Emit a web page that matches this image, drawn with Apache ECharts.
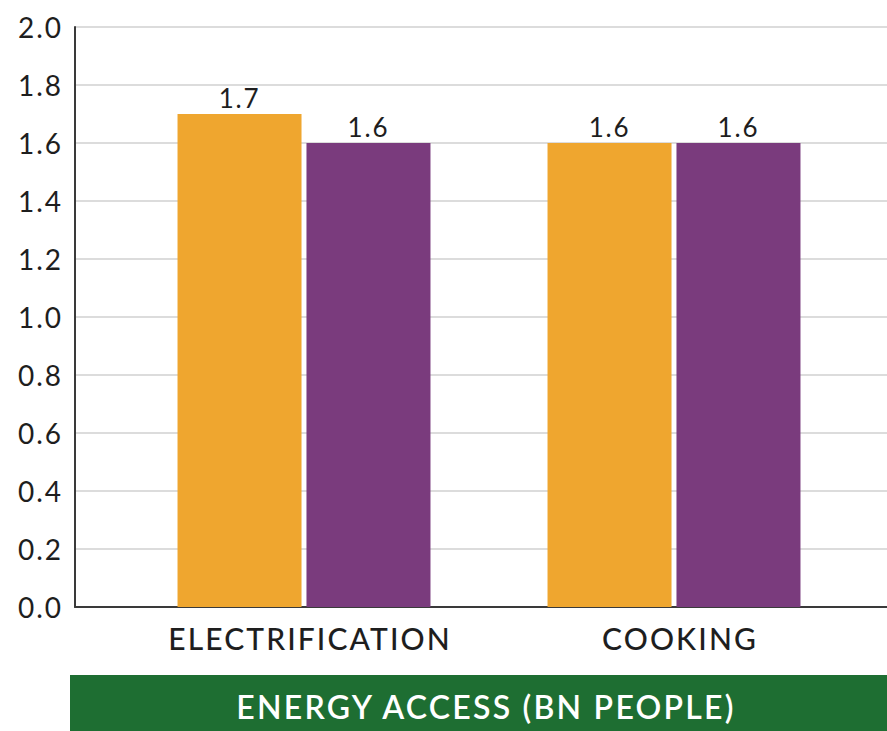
<!DOCTYPE html>
<html>
<head>
<meta charset="utf-8">
<script src="https://cdn.jsdelivr.net/npm/echarts@6/dist/echarts.min.js"></script>
<style>
  html, body { margin: 0; padding: 0; background: #fff; }
  #chart { width: 887px; height: 731px; }
  /* open up the tracking of every label */
  #chart svg text { letter-spacing: 0.07em; }
</style>
</head>
<body>
<div id="chart"></div>
<script>
// Energy access, billions of people
const categories = ['ELECTRIFICATION', 'COOKING'];
const seriesA = [1.7, 1.6];
const seriesB = [1.6, 1.6];
const yTicks = { min: 0, max: 2, interval: 0.2 };
const bannerText = 'ENERGY ACCESS (BN PEOPLE)';

const FONT = 'Lato';
const chart = echarts.init(document.getElementById('chart'), null, { renderer: 'svg' });

chart.setOption({
  animation: false,
  textStyle: { fontFamily: FONT },
  grid: [
    { left: 75, right: 0, top: 27, height: 580 },
    { left: 119, width: 740, top: 27, height: 580 }
  ],
  xAxis: [
    {
      gridIndex: 0, type: 'category', data: [''],
      axisLine: { show: true, lineStyle: { color: '#3a3a3a', width: 2 } },
      axisTick: { show: false }, axisLabel: { show: false }
    },
    {
      gridIndex: 1, type: 'category', data: categories,
      axisLine: { show: false }, axisTick: { show: false },
      axisLabel: {
        color: '#1e1e1e', fontSize: 30, fontFamily: FONT,
        fontWeight: 500, margin: 16, padding: [0, 0, 0, 12]
      }
    }
  ],
  yAxis: [
    {
      gridIndex: 0, type: 'value',
      min: yTicks.min, max: yTicks.max, interval: yTicks.interval,
      axisLine: { show: true, lineStyle: { color: '#3a3a3a', width: 2 } },
      axisTick: { show: false },
      splitLine: { lineStyle: { color: '#dcdcdc', width: 2 } },
      axisLabel: {
        color: '#1e1e1e', fontSize: 28, fontFamily: FONT, margin: 12,
        formatter: v => v.toFixed(1)
      }
    },
    {
      gridIndex: 1, type: 'value',
      min: yTicks.min, max: yTicks.max, interval: yTicks.interval,
      show: false, splitLine: { show: false }
    }
  ],
  series: [
    {
      type: 'bar', xAxisIndex: 1, yAxisIndex: 1, data: seriesA,
      barWidth: 124, barGap: '4%',
      itemStyle: { color: '#EFA62F' },
      label: {
        show: true, position: 'top', distance: 3, color: '#1e1e1e',
        fontSize: 26, fontFamily: FONT, formatter: p => p.value.toFixed(1)
      }
    },
    {
      type: 'bar', xAxisIndex: 1, yAxisIndex: 1, data: seriesB,
      barWidth: 124,
      itemStyle: { color: '#7A3B7D' },
      label: {
        show: true, position: 'top', distance: 3, color: '#1e1e1e',
        fontSize: 26, fontFamily: FONT, formatter: p => p.value.toFixed(1)
      }
    }
  ],
  graphic: [
    {
      type: 'rect', left: 70, top: 675,
      shape: { width: 817, height: 56 },
      style: { fill: '#1E6E32' }
    },
    {
      type: 'text', x: 486, y: 706,
      style: {
        text: bannerText, fill: '#ffffff', fontSize: 32, fontWeight: 600,
        fontFamily: FONT, align: 'center', verticalAlign: 'middle'
      }
    }
  ]
});
</script>
</body>
</html>
